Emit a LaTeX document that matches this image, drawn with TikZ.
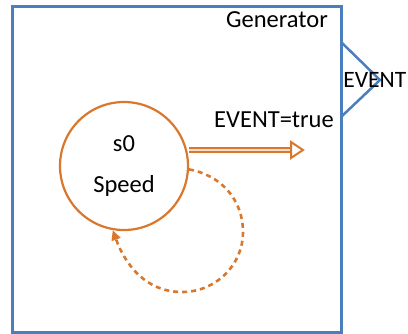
\documentclass[tikz,border=0pt]{standalone}
\usepackage{fontspec}
\setmainfont{Carlito}
\usetikzlibrary{arrows.meta,calc}
\definecolor{bluebox}{HTML}{4A7EBF}
\definecolor{orng}{HTML}{D9782D}
\begin{document}
\begin{tikzpicture}[x=1pt,y=-1pt,
  lbl/.style={inner sep=0pt, font=\fontsize{24.5}{28}\selectfont},
  state/.style={circle, draw=orng, line width=2.2pt, minimum size=128pt, inner sep=0pt, align=center, font=\fontsize{24.5}{41}\selectfont}]
\useasboundingbox (0,0) rectangle (408,333);
\node[draw=bluebox, line width=3pt, minimum width=329pt, minimum height=326pt, anchor=north west, inner sep=0pt] (gen) at (11,5) {};
\coordinate (pa) at (341,42);
\coordinate (pt) at (380,80);
\coordinate (pb) at (341,117);
\draw[bluebox, line width=2.5pt, line join=miter] (pa) -- (pt) -- (pb);
\node[lbl, anchor=east, font=\fontsize{23.5}{28}\selectfont] (port) at (406.5,80) {EVENT};
\node[lbl, anchor=east] (title) at (328,20) {Generator};
\node[lbl, anchor=east] (guard) at (334,120) {EVENT=true};
\node[state] (s) at (124,166) {s0\\Speed};
\coordinate (tip) at (303,150);
\coordinate (ae) at (291,150);
\draw[orng, line width=1.8pt, double=orng!25, double distance=2.5pt] (s.east |- tip) -- (ae);
\draw[orng, line width=2pt, fill=white, line join=miter] ($(ae)+(0,-8)$) -- (tip) -- ($(ae)+(0,8)$) -- cycle;
\draw[orng, line width=2.6pt, dash pattern=on 5pt off 4pt, -{Triangle[length=10pt,width=9pt]}]
  (s.-3) to[out=-10,in=90] (243,232) to[out=-90,in=0] (182,292) to[out=180,in=-70] (s.-100);
\end{tikzpicture}
\end{document}
